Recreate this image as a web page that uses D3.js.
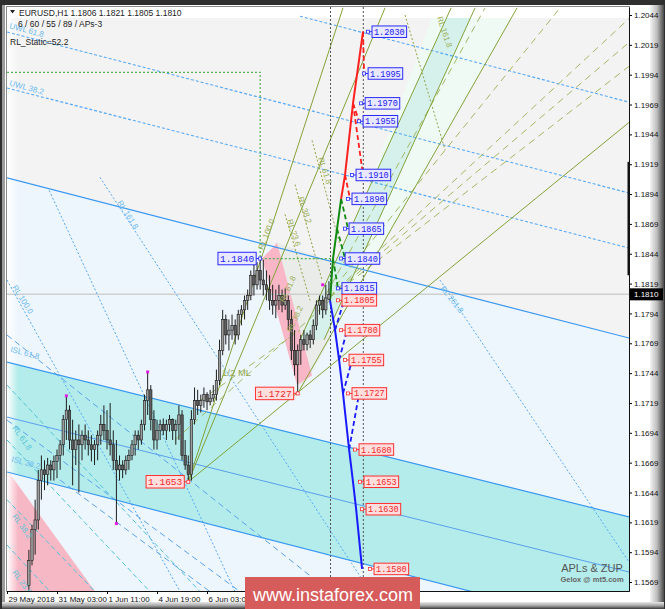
<!DOCTYPE html>
<html>
<head>
<meta charset="utf-8">
<script src="https://cdnjs.cloudflare.com/ajax/libs/d3/7.8.5/d3.min.js"></script>
<style>
  body{margin:0;background:#fff;}
  text{font-family:"Liberation Sans",Arial,sans-serif;}
  .mono{font-family:"Liberation Mono","DejaVu Sans Mono",monospace;}
</style>
</head>
<body>
<script>
// ---- data ----
var symbol='EURUSD,H1', setup='6 / 60 / 55 / 89 / APs-3', staticInfo='RL_Static=52.2';
// 2-hour bars, hour index counted from 29 May 19:00
var barStart=14, barStep=2;
var barOpen=[1.1566,1.1587,1.1613,1.1621,1.1654,1.1663,1.1659,1.1667,1.1663,1.1670,
  1.1675,1.1684,1.1705,1.1713,1.1688,1.1680,1.1688,1.1684,1.1692,1.1688,
  1.1684,1.1680,1.1684,1.1692,1.1701,1.1696,1.1688,1.1684,1.1671,1.1663,
  1.1667,1.1663,1.1671,1.1675,1.1684,1.1692,1.1688,1.1701,1.1721,1.1730,
  1.1705,1.1688,1.1696,1.1701,1.1696,1.1701,1.1705,1.1696,1.1701,1.1709,
  1.1675,1.1667,1.1659,1.1705,1.1721,1.1717,1.1721,1.1726,1.1720,1.1723,
  1.1726,1.1738,1.1763,1.1789,1.1776,1.1780,1.1784,1.1776,1.1793,1.1797,
  1.1805,1.1809,1.1826,1.1818,1.1830,1.1822,1.1818,1.1814,1.1805,1.1801,
  1.1805,1.1809,1.1801,1.1805,1.1789,1.1763,1.1751,1.1763,1.1772,1.1768,
  1.1776,1.1772,1.1784,1.1801,1.1805,1.1797,1.1806];
var barHigh=[1.1596,1.1617,1.1638,1.1663,1.1675,1.1671,1.1673,1.1671,1.1675,1.1680,
  1.1688,1.1709,1.1725,1.1717,1.1705,1.1696,1.1701,1.1696,1.1701,1.1696,
  1.1692,1.1688,1.1696,1.1709,1.1717,1.1713,1.1719,1.1696,1.1688,1.1675,
  1.1671,1.1675,1.1680,1.1688,1.1696,1.1696,1.1705,1.1726,1.1745,1.1734,
  1.1713,1.1705,1.1705,1.1706,1.1705,1.1709,1.1706,1.1705,1.1717,1.1713,
  1.1688,1.1675,1.1713,1.1732,1.1730,1.1726,1.1732,1.1728,1.1730,1.1734,
  1.1747,1.1772,1.1797,1.1793,1.1789,1.1793,1.1789,1.1797,1.1801,1.1809,
  1.1814,1.1830,1.1835,1.1837,1.1840,1.1839,1.1830,1.1826,1.1818,1.1814,
  1.1818,1.1814,1.1815,1.1809,1.1797,1.1780,1.1768,1.1776,1.1780,1.1778,
  1.1780,1.1789,1.1805,1.1809,1.1809,1.1818,1.1821];
var barLow=[1.1562,1.1583,1.1592,1.1613,1.1638,1.1646,1.1650,1.1654,1.1654,1.1656,
  1.1663,1.1675,1.1688,1.1680,1.1650,1.1667,1.1644,1.1671,1.1680,1.1675,
  1.1670,1.1667,1.1671,1.1684,1.1688,1.1680,1.1675,1.1663,1.1618,1.1654,
  1.1656,1.1659,1.1663,1.1671,1.1675,1.1680,1.1684,1.1696,1.1709,1.1696,
  1.1680,1.1680,1.1688,1.1692,1.1688,1.1695,1.1688,1.1684,1.1688,1.1671,
  1.1663,1.1653,1.1654,1.1701,1.1709,1.1711,1.1715,1.1713,1.1717,1.1720,
  1.1721,1.1734,1.1759,1.1768,1.1763,1.1772,1.1768,1.1772,1.1784,1.1789,
  1.1797,1.1805,1.1809,1.1814,1.1814,1.1809,1.1805,1.1797,1.1793,1.1790,
  1.1797,1.1795,1.1797,1.1780,1.1755,1.1742,1.1727,1.1751,1.1763,1.1763,
  1.1765,1.1768,1.1780,1.1793,1.1790,1.1793,1.1805];
var barClose=[1.1587,1.1613,1.1621,1.1654,1.1663,1.1659,1.1667,1.1663,1.1670,1.1675,
  1.1684,1.1705,1.1713,1.1688,1.1680,1.1688,1.1684,1.1692,1.1688,1.1684,
  1.1680,1.1684,1.1692,1.1701,1.1696,1.1688,1.1684,1.1671,1.1663,1.1667,
  1.1663,1.1671,1.1675,1.1684,1.1692,1.1688,1.1701,1.1721,1.1730,1.1705,
  1.1688,1.1696,1.1701,1.1696,1.1701,1.1705,1.1696,1.1701,1.1709,1.1675,
  1.1667,1.1659,1.1705,1.1721,1.1717,1.1721,1.1726,1.1720,1.1723,1.1726,
  1.1738,1.1763,1.1789,1.1776,1.1780,1.1784,1.1776,1.1793,1.1797,1.1805,
  1.1809,1.1826,1.1818,1.1830,1.1822,1.1818,1.1814,1.1805,1.1801,1.1805,
  1.1809,1.1801,1.1805,1.1789,1.1763,1.1751,1.1763,1.1772,1.1768,1.1776,
  1.1772,1.1784,1.1801,1.1805,1.1797,1.1807,1.1810];

var priceTicks=[1.2044,1.2019,1.1994,1.1969,1.1944,1.1919,1.1894,1.1869,1.1844,1.1819,
  1.1794,1.1769,1.1744,1.1719,1.1694,1.1669,1.1644,1.1619,1.1594,1.1569];
var timeTicks=[0,32,64,96,128];
var timeLabels=['29 May 2018','31 May 03:00','1 Jun 11:00','4 Jun 19:00','6 Jun 03:00'];
var timeFuture=[207,228];

// pitchfork (hour, price)
var mainLine=[[0,1.19075],[398,1.17734]];
var bandUpper=[[0,1.17533],[398,1.16235]];
var bandMid=[[0,1.17072],[398,1.15774]];
var bandLower=[[0,1.16612],[398,1.15271]];
var warnLines=[[[0,1.20298],[398,1.18949]],[[0,1.19829],[398,1.18488]],[[187.5,1.2043],[398,1.1971]]];
var reactionLines=[[[0,1.1822],[110.7,1.1561]],[[59.5,1.1908],[232.3,1.1561]],[[27,1.1897],[145.9,1.1561]],[[277,1.1822],[398,1.15858]]];
var cyanLines=[[[0,1.1734],[123.5,1.1561]],[[0,1.1688],[91.5,1.1561]],[[0,1.1638],[56.3,1.1561]],[[0,1.1600],[27.5,1.1561]]];
var blueDashLines=[[[0,1.17759],[206.7,1.1561]],[[0,1.17047],[149.1,1.1561]],[[33.9,1.16545],[129.9,1.1561]]];

// fans
var fanSolid=[[[116,1.1653],[215.0,1.2050]],[[116,1.1653],[241.9,1.2050]],[[116,1.1653],[398,1.1954]],
  [[186,1.1727],[326.4,1.2050]],[[187.5,1.1772],[284.2,1.2050]],[[202.9,1.1772],[299.5,1.2050]]];
var fanDashed=[[[200.3,1.1801],[305.9,1.2050]],[[200.3,1.1801],[353.9,1.2050]],[[200.3,1.1801],[398,1.2041]],
  [[200.3,1.1801],[398,1.2021]],[[200.3,1.1801],[398,1.2001]],[[107.5,1.1688],[206.7,1.1805]],[[123.5,1.1721],[187.5,1.1780]]];
var fanDotted=[[[254.7,1.2044],[280.3,1.1931]],[[195.2,1.1939],[213.1,1.1851]],[[184.3,1.1902],[201.6,1.1822]],[[177.9,1.1877],[193.9,1.1805]]];
var staticBox=[[0,1.1996],[162,1.1996],[162,1.1840],[209,1.1840]];

// shaded areas
var pinkLow=[[0,1.1663],[57,1.1560],[0,1.1560]];
var pinkBand=[[163.2,1.1840],[172.8,1.1853],[195.2,1.1742],[185.6,1.1734]];
var greyZone=[[171.5,1.1854],[206.7,1.1838],[206.7,1.1772],[187.5,1.1728]];
var mintZone=[[206.7,1.1814],[272,1.2042],[322.6,1.2042],[224.6,1.1814]];
var tealZone=[[187.5,1.1772],[284.2,1.2050],[299.5,1.2050],[202.9,1.1772]];

// forecast zigzag
var upGreen=[[206.7,1.1805],[208.6,1.1840],[211.2,1.1865],[213.8,1.1890]];
var upRed=[[213.8,1.1890],[216.3,1.1910],[221.4,1.1970],[227.8,1.2030]];
var upGreenDash=[[[208.6,1.1840],[211.8,1.1815]],[[211.2,1.1865],[216.3,1.1840]],[[213.8,1.1890],[218.2,1.1865]]];
var upRedDash=[[[216.3,1.1910],[219.5,1.1890]],[[221.4,1.1970],[225.3,1.1955]],[[221.4,1.1970],[227.8,1.1910]],[[227.8,1.2030],[228.5,1.1995]]];
var downBlue=[[206.7,1.1805],[209.9,1.1780],[212.5,1.1755],[215.0,1.1727],[218.9,1.1680],[221.4,1.1653],[223.4,1.1630],[227.2,1.1580]];
var downBlueDash=[[[209.9,1.1780],[215.7,1.1805]],[[212.5,1.1755],[217.6,1.1780]],[[215.0,1.1727],[220.8,1.1755]],[[218.9,1.1680],[225.3,1.1727]]];
var upTags=[[211.8,1.1815],[213.8,1.1840],[216.3,1.1865],[218.2,1.1890],[220.8,1.1910],[225.3,1.1955],[226.6,1.1970],[228.5,1.1995],[231.0,1.2030]];
var downTags=[[211.8,1.1805],[213.8,1.1780],[216.3,1.1755],[218.2,1.1727],[222.7,1.1680],[225.9,1.1653],[227.2,1.1630],[232.3,1.1580]];
var pivots=[[38,1.1725],[70,1.1618],[90,1.1745],[116,1.1653],[162,1.1840],[186,1.1727],[202,1.1818]];
var pivotTags=[[162,1.1840,'up'],[186,1.1727,'down'],[116,1.1653,'down']];

var notes=[
  ['UWL 61.8',1.3,1.2033,15,'#6cbaf0'],['UWL 38.2',1.3,1.1985,15,'#6cbaf0'],
  ['RL 100.0',3.2,1.1816,58,'#6cbaf0'],['RL 161.8',70.4,1.1887,58,'#6cbaf0'],['RL 261.8',277.1,1.1815,52,'#6cbaf0'],
  ['ISL 61.8',1.9,1.1762,15,'#6cbaf0'],['ISL 38.2',2.6,1.1670,15,'#6cbaf0'],
  ['RL 61.8',3.2,1.1698,55,'#58c4d8'],['RL 38.2',3.2,1.1624,55,'#58c4d8'],['RL 23.6',3.2,1.1577,55,'#58c4d8'],
  ['RL 161.8',275.2,1.2042,72,'#9aae55'],['RL 61.8',199,1.1924,72,'#9aae55'],['RL 38.2',186.2,1.1891,72,'#9aae55'],
  ['RL 23.6',179.2,1.1872,72,'#9aae55'],['RL 100.0',163.8,1.1847,-68,'#9aae55'],
  ['RL 61.8',177.5,1.1803,-65,'#9aae55'],['RL 38.2',182,1.1778,-65,'#9aae55']
];

// ---- chart ----
var W=665,H=609;
var svg=d3.select('body').append('svg').attr('width',W).attr('height',H);
var defs=svg.append('defs');
var x=d3.scaleLinear().domain([0,398]).range([7,629]);
var y=d3.scaleLinear().domain([1.15615,1.20507]).range([591,7]);
var line=d3.line().x(function(d){return x(d[0]);}).y(function(d){return y(d[1]);});

function grad(id,x2,y2,stops){
  var g=defs.append('linearGradient').attr('id',id).attr('x1',0).attr('y1',0).attr('x2',x2).attr('y2',y2);
  stops.forEach(function(s){g.append('stop').attr('offset',s[0]).attr('stop-color',s[1]).attr('stop-opacity',s[2]==null?1:s[2]);});
}
grad('gr',1,0,[[0,'#f4f4f4'],[0.5,'#bdbdbd'],[1,'#4a4a4a']]);
grad('gb',0,1,[[0,'#e8e8e8'],[0.5,'#a8a8a8'],[1,'#3a3a3a']]);
grad('gl',1,0,[[0,'#fff',1],[1,'#fff',0]]);
defs.append('clipPath').attr('id','cfill').append('rect').attr('x',7).attr('y',18).attr('width',622).attr('height',573);
defs.append('clipPath').attr('id','cplot').append('rect').attr('x',7).attr('y',7).attr('width',622).attr('height',584);

// window frame
svg.append('rect').attr('width',W).attr('height',H).attr('fill','#2f2f2f');
svg.append('rect').attr('x',2).attr('y',5).attr('width',651).attr('height',598).attr('fill','#fff');
svg.append('rect').attr('x',2).attr('y',5).attr('width',3).attr('height',598).attr('fill','#9c9c9c');
svg.append('rect').attr('x',650).attr('y',5).attr('width',14).attr('height',599).attr('fill','url(#gr)');
svg.append('rect').attr('x',2).attr('y',602).attr('width',662).attr('height',7).attr('fill','url(#gb)');

// shaded zones
var fills=svg.append('g').attr('clip-path','url(#cfill)');
fills.append('rect').attr('x',7).attr('y',7).attr('width',622).attr('height',584).attr('fill','#f3f3f3');
function area(pts,col){fills.append('path').attr('d',line(pts)+'Z').attr('fill',col);}
area([mainLine[0],mainLine[1],[398,1.15],[0,1.15]],'#eef6fd');
area([bandUpper[0],bandUpper[1],bandLower[1],bandLower[0]],'#b3ecea');
area(pinkLow,'#f7b8c6');
area(greyZone,'#e9ece9');
area(pinkBand,'#f8b6c6');
area(mintZone,'#effaf4');
area(tealZone,'#d6f1ec');
fills.append('rect').attr('x',7).attr('y',7).attr('width',11).attr('height',584).attr('fill','url(#gl)');

// lines
var lines=svg.append('g').attr('clip-path','url(#cplot)');
function draw(list,col,w,dash){
  list.forEach(function(pts){
    lines.append('path').attr('d',line(pts)).attr('fill','none').attr('stroke',col)
      .attr('stroke-width',w).attr('stroke-dasharray',dash||null);
  });
}
lines.append('line').attr('x1',7).attr('x2',629).attr('y1',y(barClose[barClose.length-1])).attr('y2',y(barClose[barClose.length-1]))
  .attr('stroke','#cfcfcf').attr('stroke-width',1.5);
draw(cyanLines,'#4fc4d8',1,'5,3');
draw(blueDashLines,'#5aa2ee',1,'6,4');
draw(reactionLines,'#55a8f6',1,'2,2');
draw(warnLines,'#55a8f6',1.1,'3,2');
draw([mainLine,bandUpper,bandLower],'#3a98f2',1.2);
draw([bandMid],'#5b9ff0',1);
draw(fanDashed,'#a3b865',1,'7,5');
draw(fanSolid,'#84a23a',1);
draw(fanDotted,'#8fa548',1,'2,2');
draw([staticBox],'#53b153',1.2,'2,2');
timeFuture.forEach(function(t){
  lines.append('line').attr('x1',x(t)).attr('x2',x(t)).attr('y1',7).attr('y2',591)
    .attr('stroke','#555').attr('stroke-dasharray','2,2');
});

// candles
var bars=barOpen.map(function(o,i){return {t:barStart+i*barStep,o:o,h:barHigh[i],l:barLow[i],c:barClose[i]};});
var cg=svg.append('g').attr('clip-path','url(#cplot)');
cg.selectAll('line.w').data(bars).enter().append('line')
  .attr('x1',function(d){return x(d.t);}).attr('x2',function(d){return x(d.t);})
  .attr('y1',function(d){return y(d.h);}).attr('y2',function(d){return y(d.l);})
  .attr('stroke','#1e1e1e').attr('stroke-width',1);
cg.selectAll('rect.b').data(bars).enter().append('rect')
  .attr('x',function(d){return x(d.t)-1.2;}).attr('width',2.4)
  .attr('y',function(d){return y(Math.max(d.o,d.c));})
  .attr('height',function(d){return Math.max(1,Math.abs(y(d.o)-y(d.c)));})
  .attr('fill',function(d){return d.c>=d.o?'#9c9c9c':'#5e5e5e';})
  .attr('stroke','#1a1a1a').attr('stroke-width',0.6);
cg.selectAll('rect.p').data(pivots).enter().append('rect')
  .attr('x',function(d){return x(d[0])-1.5;}).attr('y',function(d){return y(d[1])-1.5;})
  .attr('width',3).attr('height',3).attr('fill','#e020e0');

// forecast zigzag
draw(upGreenDash,'#118a11',1.8,'5,3');
draw(upRedDash,'#ff2020',1.8,'5,3');
draw(downBlueDash,'#1a1aff',1.8,'5,3');
draw([upGreen],'#118a11',2);
draw([upRed],'#ff2020',2);
draw([downBlue],'#1a1aff',2);

var tagStyle={up:{stroke:'#2a2aff',fill:'#e8e8ff',text:'#2020f0'},down:{stroke:'#ff3030',fill:'#ffdede',text:'#f02828'}};
function tag(h,p,kind,dir,fs){
  var s=tagStyle[kind], px=x(h), py=y(p);
  var g=svg.append('g');
  var t=g.append('text').attr('class','mono').attr('font-size',fs).attr('fill',s.text).text(p.toFixed(4));
  var w=t.node().getComputedTextLength()+4, hh=fs+3;
  var bx=dir>0?px+4:px-4-w;
  g.insert('rect','text').attr('x',bx).attr('y',py-hh/2).attr('width',w).attr('height',hh)
    .attr('fill',s.fill).attr('stroke',s.stroke).attr('stroke-width',1);
  t.attr('x',bx+2).attr('y',py+fs*0.36);
  g.append('line').attr('x1',px).attr('x2',dir>0?bx:bx+w).attr('y1',py).attr('y2',py).attr('stroke',s.stroke);
  g.append('rect').attr('x',px-1.5).attr('y',py-1.5).attr('width',3).attr('height',3)
    .attr('fill','#fff').attr('stroke',s.stroke).attr('stroke-width',0.8);
}
upTags.forEach(function(d){tag(d[0],d[1],'up',1,8.5);});
downTags.forEach(function(d){tag(d[0],d[1],'down',1,8.5);});
pivotTags.forEach(function(d){tag(d[0],d[1],d[2],-1,9.5);});

// rotated notes
var ng=svg.append('g').attr('clip-path','url(#cplot)');
notes.forEach(function(n){
  ng.append('text').attr('transform','translate('+x(n[1])+','+y(n[2])+') rotate('+n[3]+')')
    .attr('font-size',8).attr('fill',n[4]).text(n[0]);
});
svg.append('text').attr('x',x(137.6)).attr('y',y(1.1742)).attr('font-size',9.5).attr('fill','#93a84e').text('1/2 ML');

// plot frame
svg.append('rect').attr('x',6.5).attr('y',6.5).attr('width',623).attr('height',585).attr('fill','none').attr('stroke','#8a8a8a');

// axes
var ay=svg.append('g').attr('transform','translate(629,0)')
  .call(d3.axisRight(y).tickValues(priceTicks).tickFormat(d3.format('.4f')).tickSize(3).tickSizeOuter(0));
ay.select('.domain').attr('stroke','#111');
ay.selectAll('text').attr('font-size',8).attr('fill','#111').attr('x',5);
var ax=svg.append('g').attr('transform','translate(0,591)')
  .call(d3.axisBottom(x).tickValues(timeTicks).tickFormat(function(d,i){return timeLabels[i];}).tickSize(3).tickSizeOuter(0));
ax.select('.domain').attr('stroke','#111');
ax.selectAll('text').attr('font-size',8).attr('fill','#111').attr('text-anchor','start').attr('x',1).attr('y',5);

// current price marker
var cp=barClose[barClose.length-1];
svg.append('rect').attr('x',627.5).attr('y',y(1.1921)).attr('width',2.5).attr('height',y(1.1826)-y(1.1921)).attr('fill','#111');
svg.append('rect').attr('x',630).attr('y',y(cp)-6).attr('width',33).attr('height',12).attr('fill','#000');
svg.append('text').attr('x',634).attr('y',y(cp)+3).attr('font-size',8).attr('fill','#fff').text(cp.toFixed(4));

// header
svg.append('path').attr('d','M10,10 L15,10 L12.5,13.5 Z').attr('fill','#222');
svg.append('text').attr('x',19).attr('y',16).attr('font-size',8.5).attr('fill','#222')
  .text(symbol+'  '+barOpen[barOpen.length-1].toFixed(4)+' '+barHigh[barHigh.length-1].toFixed(4)+' '+barLow[barLow.length-1].toFixed(4)+' '+cp.toFixed(4));
svg.append('text').attr('x',18).attr('y',27).attr('font-size',8.5).attr('fill','#222').text(setup);
svg.append('text').attr('x',10).attr('y',45).attr('font-size',8.5).attr('fill','#222').text(staticInfo);

// signature
svg.append('text').attr('x',592).attr('y',572).attr('text-anchor','middle').attr('font-size',11)
  .attr('font-family','Liberation Serif, DejaVu Serif, serif').attr('fill','#555').text('APLs & ZUP');
svg.append('text').attr('x',592).attr('y',582).attr('text-anchor','middle').attr('font-size',7.5)
  .attr('font-family','Liberation Serif, DejaVu Serif, serif').attr('font-weight','bold').attr('fill','#666').text('Gelox @ mt5.com');

// watermark
svg.append('rect').attr('x',245).attr('y',577).attr('width',175).attr('height',32).attr('fill','#d65c5c');
svg.append('text').attr('x',333).attr('y',601).attr('text-anchor','middle').attr('font-size',18).attr('fill','#fff').text('www.instaforex.com');
</script>
</body>
</html>
